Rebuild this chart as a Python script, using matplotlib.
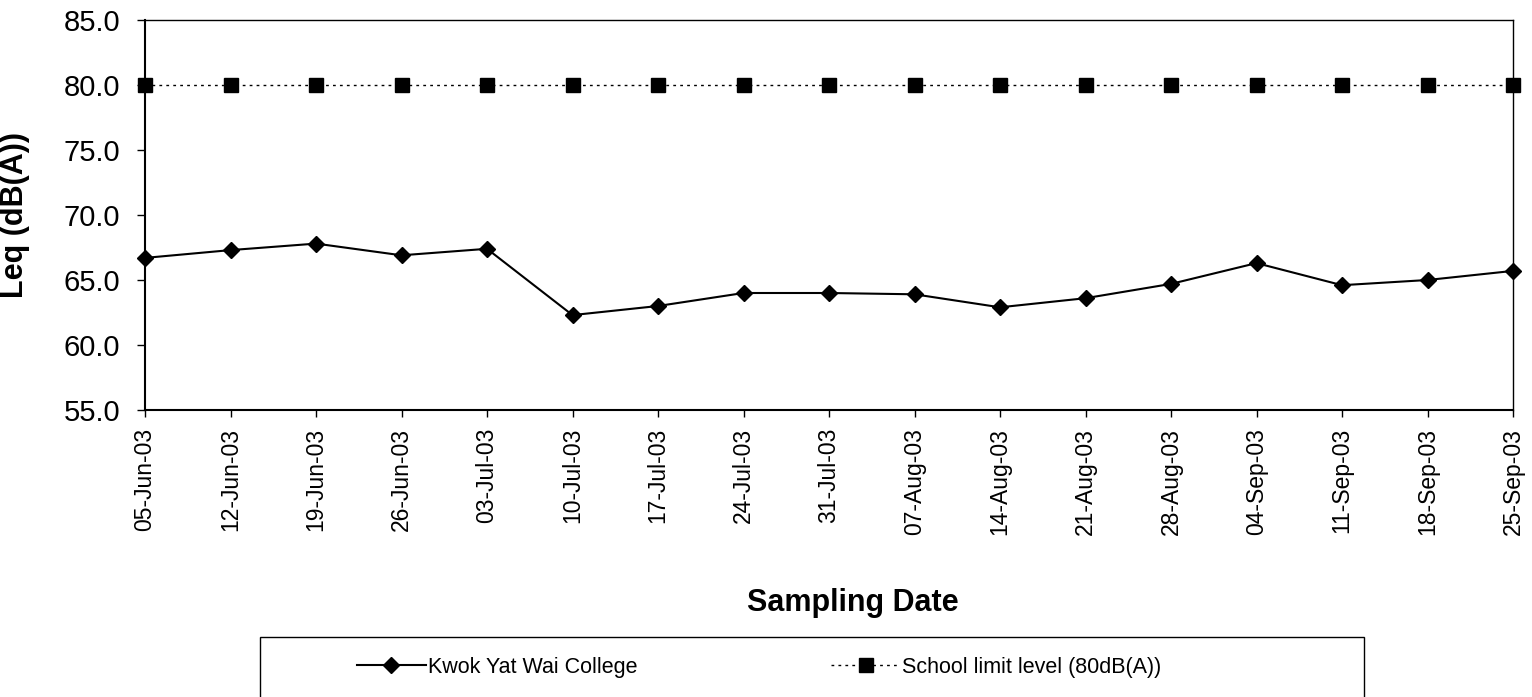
import matplotlib
matplotlib.use("Agg")
import matplotlib.pyplot as plt
from matplotlib.patches import Rectangle

plt.rcParams['font.family'] = ['Liberation Sans', 'DejaVu Sans']

dates = ["05-Jun-03", "12-Jun-03", "19-Jun-03", "26-Jun-03", "03-Jul-03", "10-Jul-03",
         "17-Jul-03", "24-Jul-03", "31-Jul-03", "07-Aug-03", "14-Aug-03", "21-Aug-03",
         "28-Aug-03", "04-Sep-03", "11-Sep-03", "18-Sep-03", "25-Sep-03"]
kwok_yat_wai = [66.7, 67.3, 67.8, 66.9, 67.4, 62.3, 63.0, 64.0, 64.0, 63.9, 62.9,
                63.6, 64.7, 66.3, 64.6, 65.0, 65.7]
school_limit = [80.0] * len(dates)
yticks = [55.0, 60.0, 65.0, 70.0, 75.0, 80.0, 85.0]

W, H = 1532, 697
fig = plt.figure(figsize=(W / 100, H / 100), dpi=100)
ax = fig.add_axes([145 / W, 1 - 410 / H, (1513 - 145) / W, (410 - 20) / H])

x = list(range(len(dates)))
ax.plot(x, kwok_yat_wai, color='black', linewidth=1.5, marker='D', markersize=8,
        label='Kwok Yat Wai College', clip_on=False, zorder=3)
ax.plot(x, school_limit, color='black', linewidth=1.0, linestyle=(0, (2, 3)),
        marker='s', markersize=10, label='School limit level (80dB(A))',
        clip_on=False, zorder=3)

ax.set_xlim(0, len(dates) - 1)
ax.set_ylim(55, 85)
ax.set_yticks(yticks)
ax.set_yticklabels([f"{v:.1f}" for v in yticks], fontsize=21)
ax.set_xticks(x)
ax.set_xticklabels(dates, rotation=90, fontsize=16.5)
ax.tick_params(axis='y', length=6, width=1, pad=12, direction='out')
ax.tick_params(axis='x', length=5, width=1, pad=8, direction='out')

for s in ['left', 'bottom']:
    ax.spines[s].set_linewidth(1.5)
for s in ['top', 'right']:
    ax.spines[s].set_linewidth(1.0)

ax.set_ylabel('Leq (dB(A))', fontsize=22, fontweight='bold')
ax.yaxis.set_label_coords((30 - 145) / (1513 - 145), 0.5)
ax.set_xlabel('Sampling Date', fontsize=22, fontweight='bold')
ax.xaxis.set_label_coords((853 - 145) / (1513 - 145), (410 - 588) / (410 - 20))

# legend frame
fig.patches.append(Rectangle((260 / W, -0.05), (1364 - 260) / W, 0.05 + (H - 637) / H,
                             transform=fig.transFigure, fill=False, edgecolor='black',
                             linewidth=1.0))
handles, labels = ax.get_legend_handles_labels()
fig.legend(handles, labels, loc='center left', bbox_to_anchor=(357 / W, 1 - 667 / H),
           ncol=2, frameon=False, fontsize=15.5, handlelength=3.2, handletextpad=0.1,
           columnspacing=9.0, borderpad=0, borderaxespad=0)

fig.savefig('out.png', dpi=100)
